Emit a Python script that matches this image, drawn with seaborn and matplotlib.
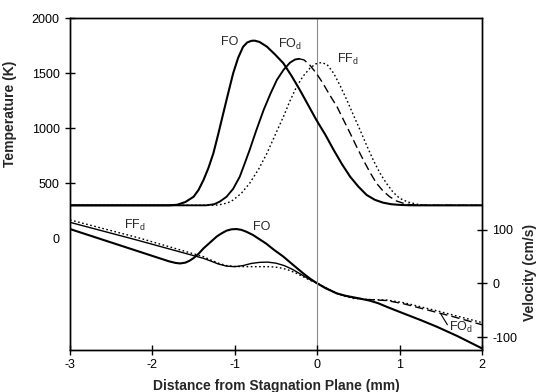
import numpy as np
import pandas as pd
import matplotlib
matplotlib.use("Agg")
import matplotlib.pyplot as plt
import seaborn as sns

# ---------------- data ----------------
# Temperature (K) vs distance from stagnation plane (mm)
t_fo_x = [-3.0, -1.80, -1.70, -1.60, -1.50, -1.44, -1.38, -1.32, -1.26, -1.20, -1.14, -1.08, -1.02,
          -0.96, -0.90, -0.85, -0.80, -0.76, -0.70, -0.61, -0.51, -0.41, -0.31, -0.21, -0.11, -0.01,
          0.10, 0.20, 0.30, 0.40, 0.50, 0.60, 0.70, 0.80, 0.90, 1.00, 1.10, 1.20, 2.0]
t_fo_y = [300, 300, 305, 330, 378, 440, 530, 640, 773, 950, 1136, 1320, 1500,
          1640, 1740, 1780, 1795, 1797, 1785, 1742, 1670, 1591, 1475, 1348, 1212, 1076,
          940, 803, 675, 560, 470, 394, 350, 324, 310, 304, 301, 300, 300]

t_fod_x = [-3.0, -1.35, -1.25, -1.18, -1.10, -1.02, -0.94, -0.88, -0.82, -0.74, -0.65, -0.57, -0.49,
           -0.41, -0.33, -0.27, -0.22, -0.16, -0.09, -0.01, 0.07, 0.15, 0.24, 0.32, 0.40, 0.48,
           0.56, 0.64, 0.72, 0.80, 0.88, 0.96, 1.05, 1.13, 1.21, 1.30, 2.0]
t_fod_y = [300, 300, 310, 335, 378, 450, 560, 680, 803, 980, 1167, 1310, 1439,
           1530, 1597, 1625, 1632, 1622, 1575, 1500, 1409, 1305, 1197, 1075, 955, 830,
           712, 600, 500, 430, 378, 340, 318, 306, 302, 300, 300]
t_fod_peak = -0.22   # FO_d drawn solid up to its peak, dashed afterwards

t_ffd_x = [-3.0, -1.25, -1.15, -1.08, -1.02, -0.92, -0.82, -0.71, -0.61, -0.51, -0.41, -0.33, -0.25,
           -0.17, -0.09, -0.02, 0.05, 0.12, 0.20, 0.28, 0.36, 0.44, 0.52, 0.60, 0.68, 0.76, 0.84,
           0.92, 1.00, 1.10, 1.21, 1.30, 1.40, 2.0]
t_ffd_y = [300, 300, 310, 325, 348, 410, 500, 630, 773, 940, 1106, 1250, 1379,
           1475, 1545, 1585, 1598, 1580, 1500, 1385, 1257, 1120, 985, 845, 712, 595, 500,
           420, 364, 330, 310, 302, 300, 300]

# Velocity (cm/s) vs distance (mm)
v_fo_x = [-3.0, -2.5, -2.0, -1.9, -1.8, -1.72, -1.665, -1.6, -1.55, -1.50, -1.44, -1.38, -1.30, -1.22,
          -1.16, -1.10, -1.04, -0.98, -0.92, -0.86, -0.78, -0.70, -0.62, -0.53, -0.41, -0.29, -0.17,
          -0.08, 0.0, 0.10, 0.236, 0.34, 0.44, 0.54, 0.64, 0.74, 0.84, 0.94, 1.045, 1.25, 1.45, 1.70, 2.0]
v_fo_y = [101, 76, 51, 46, 41, 38, 37, 38.5, 42, 47, 55, 65, 76, 87,
          93, 98, 100.5, 101, 99.5, 96, 90, 82, 74, 63, 49.6, 34, 18.6,
          8, 0, -9, -18.6, -23, -26, -29, -32.3, -37, -43.4, -49.5, -55.8, -68, -80.6, -98, -121]

v_fod_x = [-3.0, -2.19, -1.38, -1.3, -1.2, -1.1, -1.0, -0.9, -0.8, -0.7, -0.6, -0.5, -0.4, -0.3,
           -0.2, -0.1, 0.0, 0.1, 0.236, 0.34, 0.44, 0.6, 0.843, 1.05, 1.25, 1.45, 1.65, 2.0]
v_fod_y = [113.5, 80.6, 46.5, 42, 36, 32, 31, 33, 37, 39, 39.5, 37.5, 33, 26,
           17, 8, 0, -8, -18.6, -23.5, -26.8, -30, -32, -38, -46, -54, -62, -77]
v_fod_split = 0.44    # thin solid on the left, dashed on the right

v_ffd_x = [-3.0, -2.19, -1.38, -1.3, -1.2, -1.1, -1.0, -0.86, -0.7, -0.57, -0.47, -0.37, -0.27,
           -0.18, -0.09, 0.0, 0.1, 0.236, 0.34, 0.44, 0.6, 0.84, 1.05, 1.25, 1.45, 1.65, 2.0]
v_ffd_y = [118, 85.6, 49.6, 44, 37.5, 33, 31.5, 31, 31, 31, 29.5, 26, 20,
           13, 6, 0, -8, -18.6, -24, -28, -30, -31, -36, -43.4, -51, -59, -73]

x_ticks = [-3, -2, -1, 0, 1, 2]
t_ticks = [0, 500, 1000, 1500, 2000]
v_ticks = [-100, 0, 100]

# ---------------- style ----------------
sns.set_theme(style="ticks")
plt.rcParams["font.family"] = ["Liberation Sans", "DejaVu Sans"]
plt.rcParams["mathtext.fontset"] = "custom"
plt.rcParams["mathtext.rm"] = "Liberation Sans"
plt.rcParams["mathtext.it"] = "Liberation Sans:italic"
plt.rcParams["mathtext.bf"] = "Liberation Sans:bold"

fig = plt.figure(figsize=(5.38, 3.92), dpi=100)
ax = fig.add_axes([70 / 538, 42 / 392, 412 / 538, 331.7 / 392])
ax2 = ax.twinx()

lw_thick, lw_thin = 1.5, 1.0
k = "black"

def seg(xs, ys, lo=None, hi=None):
    d = pd.DataFrame({"x": xs, "y": ys})
    if lo is not None:
        d = d[d.x >= lo]
    if hi is not None:
        d = d[d.x <= hi]
    return d

# temperature curves
sns.lineplot(data=seg(t_fo_x, t_fo_y), x="x", y="y", ax=ax, color=k, lw=lw_thick, sort=False)
sns.lineplot(data=seg(t_fod_x, t_fod_y, hi=t_fod_peak), x="x", y="y", ax=ax, color=k, lw=lw_thick * 0.9, sort=False)
sns.lineplot(data=seg(t_fod_x, t_fod_y, lo=t_fod_peak), x="x", y="y", ax=ax, color=k, lw=lw_thin,
             linestyle=(0, (6, 3)), sort=False)
sns.lineplot(data=seg(t_ffd_x, t_ffd_y), x="x", y="y", ax=ax, color=k, lw=lw_thin,
             linestyle=(0, (1.2, 1.8)), sort=False)

# velocity curves
sns.lineplot(data=seg(v_fo_x, v_fo_y), x="x", y="y", ax=ax2, color=k, lw=lw_thick, sort=False)
sns.lineplot(data=seg(v_fod_x, v_fod_y, hi=v_fod_split), x="x", y="y", ax=ax2, color=k, lw=lw_thin, sort=False)
sns.lineplot(data=seg(v_fod_x, v_fod_y, lo=v_fod_split), x="x", y="y", ax=ax2, color=k, lw=lw_thin,
             linestyle=(0, (6, 3)), sort=False)
sns.lineplot(data=seg(v_ffd_x, v_ffd_y), x="x", y="y", ax=ax2, color=k, lw=lw_thin,
             linestyle=(0, (1.2, 1.8)), sort=False)

# stagnation plane
ax.axvline(0, color="#8a8a8a", lw=0.8, zorder=0)

# axes limits & ticks
ax.set_xlim(-3, 2)
ax.set_ylim(-1015, 2000)
ax2.set_ylim(-124, 493)
ax.set_xticks(x_ticks)
ax.set_xticklabels([str(v) for v in x_ticks])
ax.set_yticks(t_ticks)
ax.set_yticklabels([str(v) for v in t_ticks])
ax2.set_yticks(v_ticks)
ax2.set_yticklabels([str(v) for v in v_ticks])
ax.yaxis.get_major_ticks()[0].tick1line.set_visible(False)

for a in (ax, ax2):
    a.tick_params(direction="inout", length=7, width=1.0, labelsize=9, colors=k, pad=3)
    for s in a.spines.values():
        s.set_linewidth(1.0)
        s.set_color(k)
ax.tick_params(axis="y", pad=4)
ax2.tick_params(axis="y", pad=4)

ax.set_xlabel("Distance from Stagnation Plane (mm)", fontsize=10, fontweight="bold", labelpad=6)
ax.set_ylabel("Temperature (K)", fontsize=10, fontweight="bold")
ax2.set_ylabel("Velocity (cm/s)", fontsize=10, fontweight="bold", rotation=90)
ax.yaxis.set_label_coords(-0.129, 0.711)
ax2.yaxis.set_label_coords(1.10, 0.235)
ax.set_zorder(ax2.get_zorder() + 1)
ax.patch.set_visible(False)

# curve labels
fs = 9
ax.text(-1.06, 1787, "FO", fontsize=fs, ha="center", va="center")
ax.text(-0.33, 1766, "FO$_\\mathrm{d}$", fontsize=fs, ha="center", va="center")
ax.text(0.37, 1630, "FF$_\\mathrm{d}$", fontsize=fs, ha="center", va="center")
ax2.text(-2.21, 108, "FF$_\\mathrm{d}$", fontsize=fs, ha="center", va="center")
ax2.text(-0.67, 105, "FO", fontsize=fs, ha="center", va="center")
ax2.text(1.74, -82, "FO$_\\mathrm{d}$", fontsize=fs, ha="center", va="center")
ax2.plot([1.50, 1.58], [-57, -77], color=k, lw=0.8)

fig.savefig("out.png", dpi=100)
